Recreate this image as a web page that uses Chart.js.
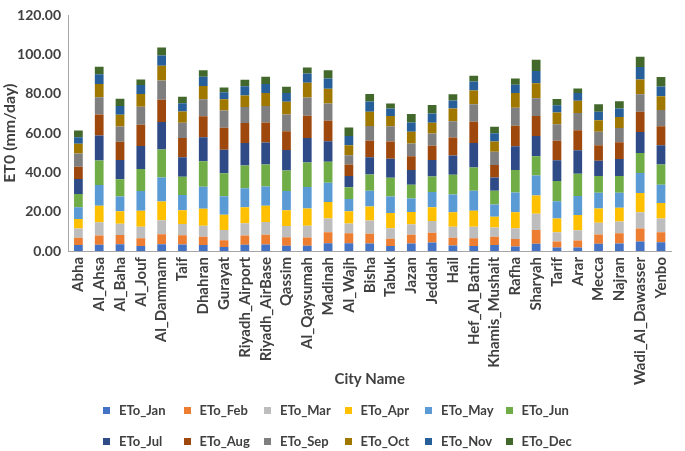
<!DOCTYPE html>
<html>
<head>
<meta charset="utf-8">
<script src="https://cdn.jsdelivr.net/npm/chart.js@4.4.1/dist/chart.umd.min.js"></script>
<style>
  body { margin: 0; background: #fff; }
  #wrap { position: relative; width: 685px; height: 451px; }
  #legend { position: absolute; left: 103px; top: 402px; display: grid;
    grid-template-columns: repeat(6, 80.5px); row-gap: 15px;
    font: bold 13px Lato, sans-serif; color: #404040; }
  #legend div { display: flex; align-items: center; height: 16px; white-space: nowrap; }
  #legend span.box { width: 7px; height: 7px; margin-right: 9px; display: inline-block; }
</style>
</head>
<body>
<div id="wrap">
  <canvas id="etChart" width="685" height="451"></canvas>
  <div id="legend"></div>
</div>
<script>
const cities = ['Abha', 'Al_Ahsa', 'Al_Baha', 'Al_Jouf', 'Al_Dammam', 'Taif', 'Dhahran', 'Gurayat',
    'Riyadh_Airport', 'Riyadh_AirBase', 'Qassim', 'Al_Qaysumah', 'Madinah', 'Al_Wajh', 'Bisha', 'Tabuk',
    'Jazan', 'Jeddah', 'Hail', 'Hef_Al_Batin', 'Khamis_Mushait', 'Rafha', 'Sharyah', 'Tarif', 'Arar',
    'Mecca', 'Najran', 'Wadi_Al_Dawasser', 'Yenbo'];

const etoJan = [3.0, 3.2, 3.5, 2.5, 3.5, 3.3, 3.0, 2.0, 3.2, 3.3, 2.7, 2.7, 4.0, 4.0, 3.8, 2.5, 3.8, 4.3, 2.8, 2.5, 3.0, 2.3, 3.7, 1.8, 1.8, 3.7, 3.8, 4.8, 4.5];
const etoFeb = [3.8, 4.7, 4.7, 4.0, 5.0, 4.7, 4.3, 3.5, 4.7, 5.0, 4.3, 4.2, 5.5, 5.0, 5.0, 3.8, 4.5, 5.0, 4.0, 4.0, 4.3, 3.8, 7.0, 3.0, 3.5, 4.7, 5.2, 6.7, 5.0];
const etoMar = [4.7, 6.7, 5.7, 5.8, 7.2, 5.8, 5.5, 5.2, 6.2, 6.5, 5.7, 6.0, 7.0, 5.0, 6.7, 5.3, 5.3, 6.0, 5.5, 5.8, 4.7, 5.5, 8.3, 4.8, 5.3, 6.0, 6.0, 8.2, 7.0];
const etoApr = [4.8, 8.5, 6.3, 8.2, 9.5, 7.0, 8.7, 7.7, 8.2, 8.3, 8.0, 8.7, 8.5, 6.2, 7.2, 7.7, 6.3, 7.0, 7.5, 8.2, 5.5, 8.2, 9.3, 7.0, 7.7, 7.3, 7.0, 9.8, 8.0];
const etoMay = [6.0, 10.5, 7.5, 10.0, 12.3, 7.7, 11.2, 9.5, 9.7, 9.8, 9.8, 11.0, 9.7, 6.3, 8.0, 8.5, 6.8, 7.7, 9.0, 10.2, 6.2, 10.0, 10.2, 8.8, 9.7, 8.0, 7.7, 10.2, 9.3];
const etoJun = [6.7, 12.5, 8.8, 11.3, 14.2, 9.3, 13.0, 11.7, 11.5, 11.2, 10.5, 12.5, 10.7, 6.0, 8.3, 9.5, 7.0, 8.0, 10.0, 11.8, 7.0, 11.5, 9.8, 10.3, 11.3, 8.5, 8.5, 10.2, 10.3];
const etoJul = [7.7, 12.7, 9.8, 11.7, 14.0, 10.0, 12.2, 12.0, 11.5, 11.2, 10.5, 12.5, 10.5, 5.7, 8.7, 9.7, 7.5, 8.3, 9.8, 12.5, 6.8, 12.0, 10.3, 10.5, 12.0, 7.8, 8.7, 10.7, 9.8];
const etoAug = [6.2, 10.7, 9.3, 10.8, 11.3, 9.8, 10.7, 11.2, 10.2, 10.2, 9.5, 11.3, 10.5, 5.8, 8.5, 8.8, 7.0, 7.3, 9.2, 10.8, 6.3, 10.5, 10.2, 10.0, 10.2, 7.8, 8.5, 10.3, 9.7];
const etoSep = [6.7, 8.8, 7.8, 9.2, 9.8, 7.7, 8.7, 8.8, 8.2, 8.3, 8.5, 9.3, 8.7, 4.8, 7.5, 7.7, 6.5, 6.2, 8.3, 9.0, 6.8, 9.2, 9.0, 8.3, 8.8, 7.0, 7.2, 9.0, 8.2];
const etoOct = [5.0, 6.7, 6.0, 6.5, 7.5, 5.7, 6.7, 5.7, 5.8, 6.7, 6.5, 7.5, 7.5, 5.0, 7.2, 5.3, 6.0, 5.5, 6.5, 7.0, 5.2, 7.5, 7.7, 6.0, 6.2, 5.8, 5.7, 7.5, 7.0];
const etoNov = [3.3, 5.0, 4.5, 4.5, 5.3, 4.3, 4.8, 3.5, 4.7, 4.5, 4.5, 4.7, 5.2, 4.8, 5.3, 3.8, 4.8, 4.7, 4.0, 4.5, 4.2, 4.2, 6.2, 3.7, 4.0, 4.3, 4.3, 6.3, 5.0];
const etoDec = [3.5, 3.8, 3.7, 2.8, 4.0, 3.3, 3.3, 2.5, 3.3, 3.7, 3.2, 3.0, 4.3, 4.3, 3.8, 2.5, 4.3, 4.3, 3.3, 3.0, 3.3, 3.2, 5.7, 3.2, 2.3, 3.8, 3.7, 5.3, 4.8];

const seriesNames = ['ETo_Jan', 'ETo_Feb', 'ETo_Mar', 'ETo_Apr', 'ETo_May', 'ETo_Jun',
    'ETo_Jul', 'ETo_Aug', 'ETo_Sep', 'ETo_Oct', 'ETo_Nov', 'ETo_Dec'];
const seriesValues = [etoJan, etoFeb, etoMar, etoApr, etoMay, etoJun, etoJul, etoAug, etoSep, etoOct, etoNov, etoDec];
const colors = ['#4472C4', '#ED7D31', '#BDBDBD', '#FFC000', '#5B9BD5', '#70AD47',
    '#2F4B87', '#9E480E', '#7F7F7F', '#A07800', '#265F99', '#43682B'];

const fontFamily = 'Lato, sans-serif';
const textColor = '#404040';

const datasets = seriesNames.map(function (name, i) {
    return {
        label: name,
        data: seriesValues[i],
        backgroundColor: colors[i],
        borderWidth: 0,
        barPercentage: 0.84,
        categoryPercentage: 0.5
    };
});

const config = {
    type: 'bar',
    data: { labels: cities, datasets: datasets },
    options: {
        responsive: false,
        animation: false,
        layout: { padding: { top: 2, right: 1, bottom: 61, left: 0 } },
        plugins: { legend: { display: false }, tooltip: { enabled: false } },
        scales: {
            x: {
                stacked: true,
                grid: { display: false, drawTicks: false },
                border: { display: true, color: '#A6A6A6', width: 1 },
                ticks: {
                    autoSkip: false, maxRotation: 90, minRotation: 90, padding: 6,
                    color: textColor, font: { family: fontFamily, size: 15, weight: 'bold' }
                },
                title: {
                    display: true, text: 'City Name', color: textColor,
                    font: { family: fontFamily, size: 15, weight: 'bold' }, padding: { top: 2, bottom: 2 }
                },
                afterFit: function (scale) { scale.height = 139; }
            },
            y: {
                stacked: true,
                min: 0, max: 120,
                grid: { display: false, drawTicks: false },
                border: { display: true, color: '#A6A6A6', width: 1 },
                ticks: {
                    stepSize: 20, padding: 7, color: textColor,
                    font: { family: fontFamily, size: 14, weight: 'bold' },
                    callback: function (v) { return v.toFixed(2); }
                },
                title: {
                    display: true, text: 'ET0 (mm/day)', color: textColor,
                    font: { family: fontFamily, size: 16, weight: 'bold' }, padding: { top: 0, bottom: 2 }
                },
                afterFit: function (scale) { scale.width = 68; }
            }
        }
    }
};

let etChart = new Chart(document.getElementById('etChart'), config);

// html legend, 6 columns like the original
const legendBox = document.getElementById('legend');
seriesNames.forEach(function (name, i) {
    const item = document.createElement('div');
    const box = document.createElement('span');
    box.className = 'box';
    box.style.background = colors[i];
    item.appendChild(box);
    item.appendChild(document.createTextNode(name));
    legendBox.appendChild(item);
});
</script>
</body>
</html>
